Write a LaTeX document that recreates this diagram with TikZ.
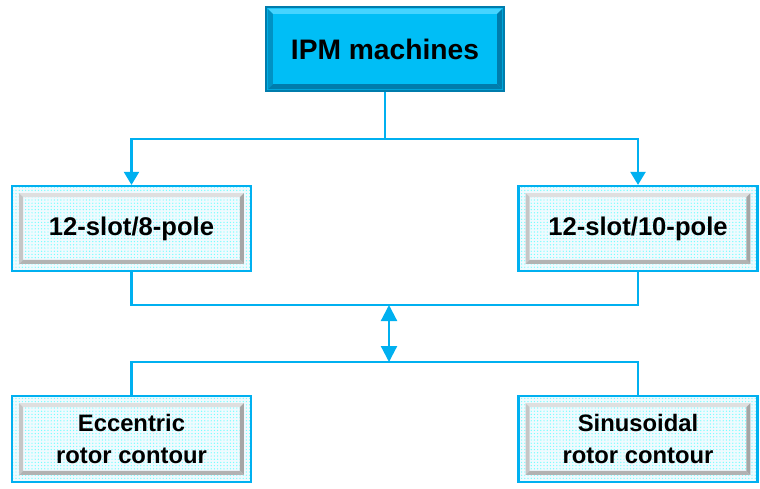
\documentclass[tikz,border=0pt]{standalone}
\usepackage{fontspec}
\setmainfont{Liberation Sans}
\usetikzlibrary{arrows.meta,calc,patterns.meta}

\definecolor{linkblue}{HTML}{00B0F0}
\definecolor{topfill}{HTML}{00BEF6}
\definecolor{toplight}{HTML}{45D4FF}
\definecolor{topleft}{HTML}{0092C4}
\definecolor{topdark}{HTML}{007CAC}

% bevel inside a box: inset, width, top, left, right, bottom colours
\newcommand\bevelframe[6]{%
  \coordinate (bA) at ($(path picture bounding box.north west)+(#1,-#1)$);
  \coordinate (bB) at ($(path picture bounding box.north east)+(-#1,-#1)$);
  \coordinate (bC) at ($(path picture bounding box.south east)+(-#1,#1)$);
  \coordinate (bD) at ($(path picture bounding box.south west)+(#1,#1)$);
  \coordinate (iA) at ($(bA)+(#2,-#2)$);
  \coordinate (iB) at ($(bB)+(-#2,-#2)$);
  \coordinate (iC) at ($(bC)+(-#2,#2)$);
  \coordinate (iD) at ($(bD)+(#2,#2)$);
  \fill[#3] (bA) -- (bB) -- (iB) -- (iA) -- cycle;
  \fill[#4] (bA) -- (iA) -- (iD) -- (bD) -- cycle;
  \fill[#5] (bB) -- (bC) -- (iC) -- (iB) -- cycle;
  \fill[#6] (bD) -- (iD) -- (iC) -- (bC) -- cycle;
}

\begin{document}
\begin{tikzpicture}[x=0.5pt,y=-0.5pt,
    link/.style={draw=linkblue,line width=1.1pt},
    tip/.style={-{Triangle[width=7.5pt,length=6.5pt]}},
    bothtips/.style={{Triangle[width=8pt,length=8pt]}-{Triangle[width=8pt,length=8pt]}},
    headbox/.style={draw=topdark,line width=0.6pt,fill=topfill,inner sep=0pt,
        minimum width=119pt,minimum height=42pt,
        font=\bfseries\fontsize{14.1}{17}\selectfont,
        path picture={\bevelframe{0.8pt}{2.6pt}{toplight}{topleft}{topdark}{topdark}}},
    casebox/.style={draw=linkblue,line width=1.1pt,inner sep=0pt,
        preaction={fill=cyan!6},
        pattern={Dots[distance=1.6pt,radius=0.35pt]},pattern color=cyan!55,
        minimum width=119.5pt,minimum height=42.5pt,align=center,
        path picture={\bevelframe{3.6pt}{2pt}{gray!25}{gray!45}{gray!70}{gray!60}}},
    midfont/.style={font=\bfseries\fontsize{12.8}{15}\selectfont},
    lowfont/.style={font=\bfseries\fontsize{11.9}{16}\selectfont,minimum height=43pt}]

  \useasboundingbox (0,0) rectangle (760,488);

  \node[headbox] (ipm) at (385,49) {IPM machines};

  \node[casebox,midfont] (s8) at (131.5,228.5) {12-slot/8-pole};
  \node[casebox,midfont] (s10) at (638,228.5) {12-slot/10-pole};

  \node[casebox,lowfont] (ecc) at (131.5,439) {Eccentric\\rotor contour};
  \node[casebox,lowfont] (sin) at (638,439) {Sinusoidal\\rotor contour};

  \coordinate (split) at (385,139);
  \coordinate (join) at (389,305);
  \coordinate (fork) at (389,362);

  \draw[link,tip] (ipm.south) -- (split) -| (s8.north);
  \draw[link,tip] (split) -| (s10.north);
  \draw[link] (s8.south) |- (join) -| (s10.south);
  \draw[link,bothtips] (join) -- (fork);
  \draw[link] (ecc.north) |- (fork) -| (sin.north);
\end{tikzpicture}
\end{document}
